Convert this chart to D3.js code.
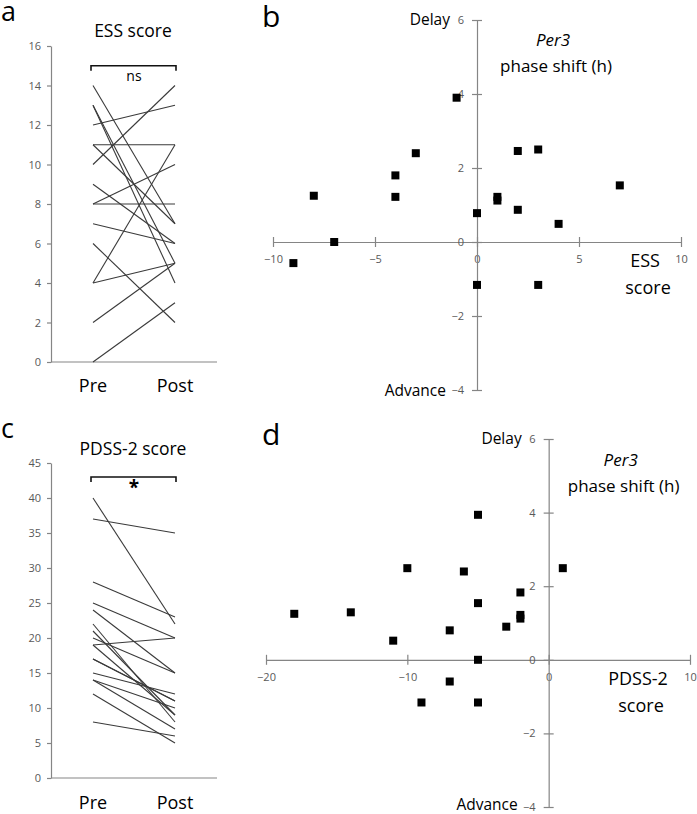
<!DOCTYPE html>
<html><head><meta charset="utf-8">
<script src="https://cdn.jsdelivr.net/npm/d3@7"></script>
<style>
body{margin:0;background:#fff;}
text{font-family:"Open Sans",Lato,sans-serif;}
</style></head>
<body>
<svg id="c" width="697" height="814"></svg>
<script>
// ---- data ----
const essPre  = [0,2,4,4,6,7,8,8,9,10,11,11,12,13,13,14];
const essPost = [3,5,5,11,2,6,8,10,6,14,11,7,13,5,4,7];
const pdssPre  = [40,37,28,25,24,22,21,20,19,19,17,17,15,14,14,12,8];
const pdssPost = [22,35,23,20,15,8,9,15,20,9,11,11,12,10,7,5,6];
const essTicks = [0,2,4,6,8,10,12,14,16];
const pdssTicks = [0,5,10,15,20,25,30,35,40,45];
const timepoints = ["Pre","Post"];

const essDiff = [-1,-3,-4,-4,-8,-7,-9,0,0,1,1,2,2,3,3,4,7];
const per3B   = [3.9,2.4,1.8,1.22,1.25,0,-0.57,0.78,-1.16,1.22,1.12,2.46,0.87,2.5,-1.16,0.49,1.53];
const pdssDiff = [-18,-14,-11,-10,-9,-7,-7,-6,-5,-5,-5,-5,-3,-2,-2,-2,1];
const per3D    = [1.25,1.29,0.52,2.49,-1.16,0.8,-0.59,2.4,3.94,1.54,0,-1.16,0.9,1.83,1.22,1.12,2.49];
const shiftTicks = [-4,-2,0,2,4,6];
const essXTicks = [-10,-5,0,5,10];
const pdssXTicks = [-20,-10,0,10];

const svg = d3.select("#c");
const axisCol = "#858585", tickTxt = "#595959";
const FF = "'Open Sans',Lato,sans-serif";

function styleAxis(g){
  g.select(".domain").attr("stroke",axisCol).attr("stroke-width",1.2);
  g.selectAll(".tick line").attr("stroke",axisCol).attr("stroke-width",1.2);
  g.selectAll(".tick text").attr("fill",tickTxt).style("font-size","11px").style("font-family",FF);
}

function pairedPanel(opt){
  const {letter, title, pre, post, ticks, yTop, yBot, dom, star, titleY, letterY, bracketVal, labOff} = opt;
  const y = d3.scaleLinear().domain(dom).range([yBot,yTop]);
  const x = d3.scalePoint().domain(timepoints).range([93,175]);
  const g = svg.append("g");
  const ya = g.append("g").attr("transform","translate(51,0)")
    .call(d3.axisLeft(y).tickValues(ticks).tickSize(4).tickSizeOuter(0).tickPadding(6));
  styleAxis(ya);
  g.append("line").attr("x1",51).attr("x2",217).attr("y1",y(dom[0])).attr("y2",y(dom[0]))
    .attr("stroke",axisCol).attr("stroke-width",1.2);
  pre.forEach((v,i)=>{
    g.append("line").attr("x1",x("Pre")).attr("y1",y(v)).attr("x2",x("Post")).attr("y2",y(post[i]))
      .attr("stroke","#3a3a3a").attr("stroke-width",1.1);
  });
  const by = y(bracketVal);
  g.append("path").attr("d",`M${x("Pre")-2},${by+5}V${by}H${x("Post")+1}V${by+5}`)
    .attr("fill","none").attr("stroke","#111").attr("stroke-width",1.6);
  g.append("text").attr("x",(x("Pre")+x("Post"))/2).attr("y",by+(star?17:15)).attr("text-anchor","middle")
    .style("font-size", star?"19px":"14px").attr("fill","#000").style("font-weight",star?"bold":"normal").text(star?"*":"ns");
  g.append("text").attr("x",133).attr("y",titleY).attr("text-anchor","middle").style("font-size","17.5px").text(title);
  g.append("text").attr("x",1).attr("y",letterY).style("font-size","27px").text(letter);
  timepoints.forEach(t=>{
    g.append("text").attr("x",x(t)).attr("y",y(dom[0])+labOff).attr("text-anchor","middle").style("font-size","18px").text(t);
  });
}

pairedPanel({letter:"a",title:"ESS score",pre:essPre,post:essPost,ticks:essTicks,yTop:46,yBot:362,dom:[0,16],star:false,titleY:37,letterY:21,bracketVal:15,labOff:30});
pairedPanel({letter:"c",title:"PDSS-2 score",pre:pdssPre,post:pdssPost,ticks:pdssTicks,yTop:463,yBot:778,dom:[0,45],star:true,titleY:455,letterY:438,bracketVal:43,labOff:31});

function scatterPanel(opt){
  const {letter, xs, ys, xDom, xRange, xTicks, yTop, yBot, xl1, xl2, xlX, letterY} = opt;
  const x = d3.scaleLinear().domain(xDom).range(xRange);
  const y = d3.scaleLinear().domain([-4,6]).range([yBot,yTop]);
  const g = svg.append("g");
  const x0 = x(0), y0 = y(0);
  const xa = g.append("g").attr("transform",`translate(0,${y0})`)
    .call(d3.axisBottom(x).tickValues(xTicks).tickSize(5).tickSizeOuter(0).tickPadding(8));
  styleAxis(xa);
  xa.selectAll(".tick line").attr("y1",-5).attr("y2",5);
  const ya = g.append("g").attr("transform",`translate(${x0},0)`)
    .call(d3.axisLeft(y).tickValues(shiftTicks).tickSize(5).tickSizeOuter(0).tickPadding(8));
  styleAxis(ya);
  ya.selectAll(".tick line").attr("x1",-5).attr("x2",5);
  const s = 8;
  g.selectAll("rect.pt").data(xs.map((v,i)=>[v,ys[i]])).enter().append("rect")
    .attr("x",d=>x(d[0])-s/2).attr("y",d=>y(d[1])-s/2).attr("width",s).attr("height",s).attr("fill","#000");
  g.append("text").attr("x",x0-27).attr("y",y(6)+5).attr("text-anchor","end").style("font-size","15.5px").text("Delay");
  g.append("text").attr("x",x0-31).attr("y",y(-4)+opt.advDy).attr("text-anchor","end").style("font-size","15.5px").text("Advance");
  g.append("text").attr("x",x0+opt.perDx).attr("y",y(6)+opt.perDy).attr("text-anchor","middle")
    .style("font-size","17px").style("font-style","italic").text("Per3");
  g.append("text").attr("x",x0+opt.perDx+3).attr("y",y(6)+opt.perDy+26).attr("text-anchor","middle")
    .style("font-size","17px").text("phase shift (h)");
  g.append("text").attr("x",xlX).attr("y",y0+25).attr("text-anchor","middle").style("font-size","18px").text(xl1);
  g.append("text").attr("x",xlX+3).attr("y",y0+52).attr("text-anchor","middle").style("font-size","18px").text(xl2);
  g.append("text").attr("x",262).attr("y",letterY).style("font-size","30px").text(letter);
}

scatterPanel({letter:"b",xs:essDiff,ys:per3B,xDom:[-10,10],xRange:[273,681],xTicks:essXTicks,yTop:20,yBot:390,
  xl1:"ESS",xl2:"score",xlX:645,letterY:27,perDx:76,perDy:26,advDy:6});
scatterPanel({letter:"d",xs:pdssDiff,ys:per3D,xDom:[-20,10],xRange:[266,690],xTicks:pdssXTicks,yTop:439,yBot:807,
  xl1:"PDSS-2",xl2:"score",xlX:638,letterY:445,perDx:72,perDy:27,advDy:3});
</script>
</body></html>
